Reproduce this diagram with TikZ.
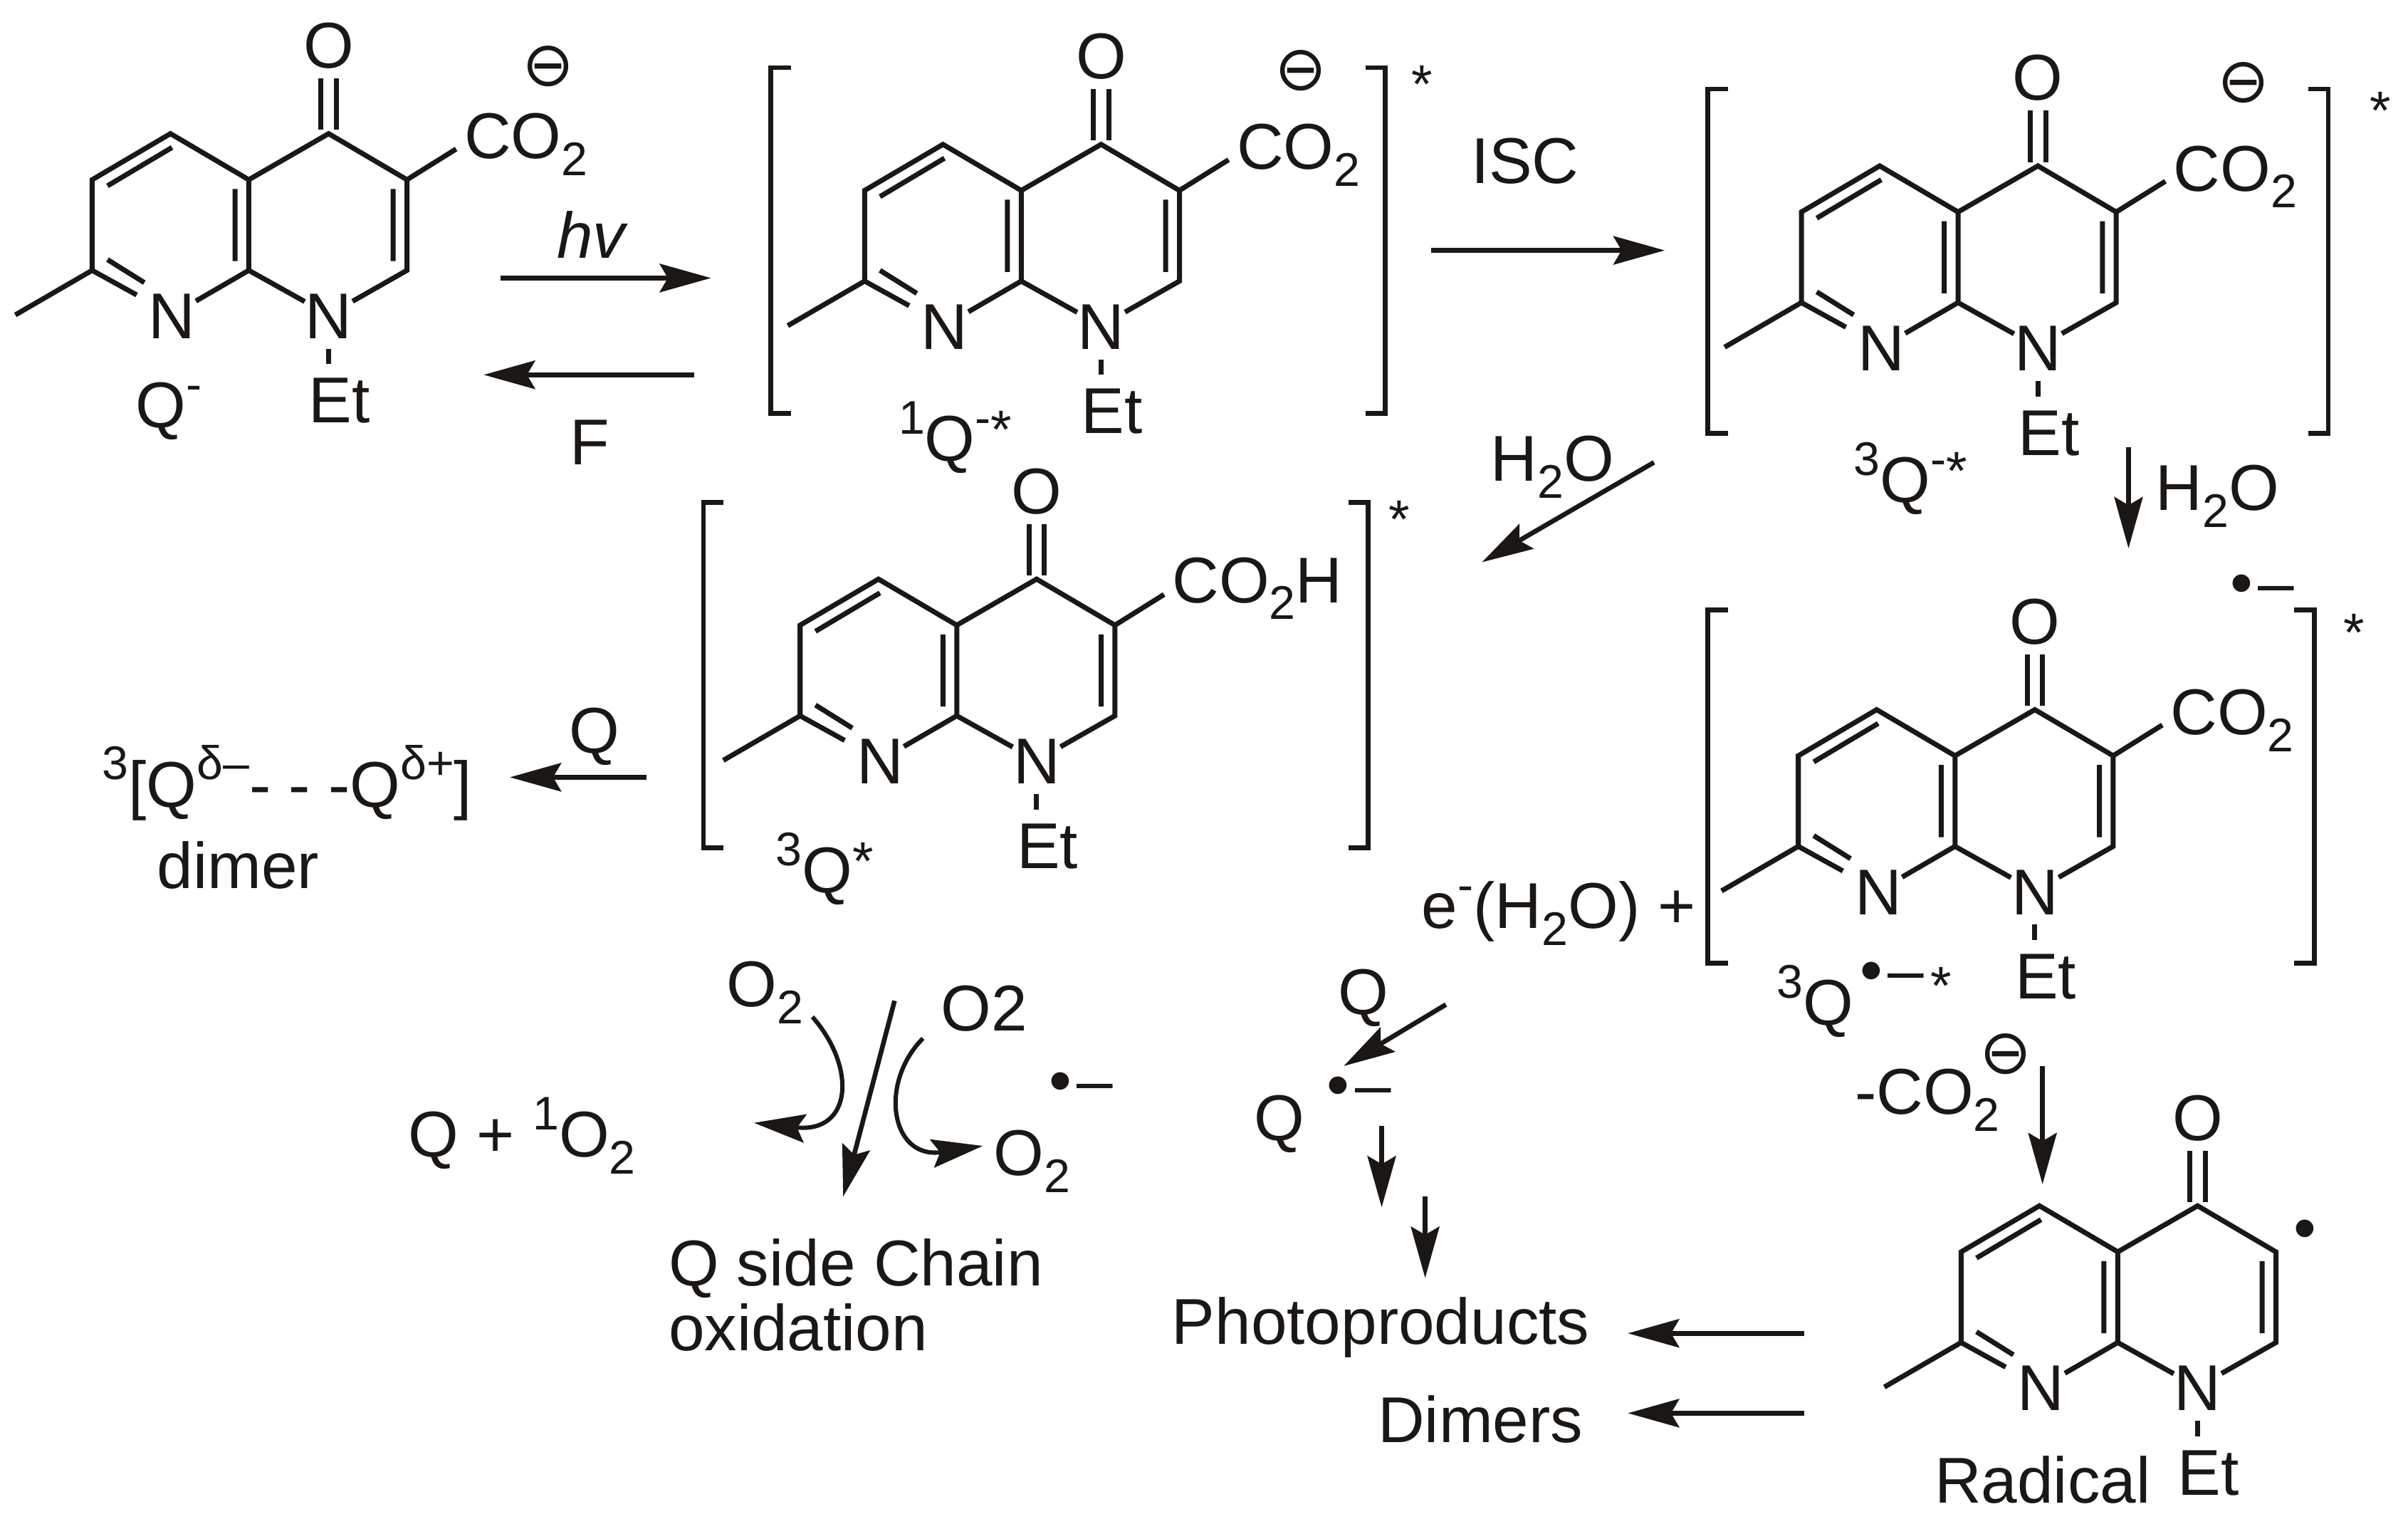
\documentclass[tikz,border=0pt]{standalone}
\usepackage{fontspec}
\usepackage{graphicx}
\setmainfont{Liberation Sans}
\newfontfamily\dvfont{DejaVu Sans}
\usetikzlibrary{arrows.meta,calc}
\newcommand{\lowtwo}[1]{\raisebox{-.26em}{\fontsize{17.5}{18}\selectfont #1}}
\newcommand{\hightwo}[1]{\raisebox{.42em}{\fontsize{17.5}{18}\selectfont #1}}
\newcommand{\asty}{\raisebox{.2em}{\fontsize{20}{20}\selectfont *}}
\newcommand{\mns}{{\dvfont\fontsize{23}{23}\selectfont ⊖}}
\newcommand{\rdot}{{\fontsize{24}{24}\selectfont •}}
\newcommand{\rad}{{\fontsize{24}{24}\selectfont •}\hspace{2pt}{\fontsize{24}{24}\selectfont –}}
\tikzset{
  lab/.style={font=\fontsize{24}{26}\selectfont,inner sep=0pt,text height=17.4pt,text depth=0pt,text=ink},
  marks/.style={inner sep=0pt,text=ink},
  star/.style={font=\fontsize{20}{20}\selectfont,inner sep=0pt,text=ink},
  bond/.style={draw=ink,line width=1.85pt,line cap=butt,line join=miter},
  brk/.style={draw=ink,line width=1.75pt},
  arw/.style={draw=ink,line width=1.75pt,-{Stealth[length=19pt,width=10.5pt,inset=3pt,fill=ink]}},
}
\definecolor{ink}{RGB}{26,23,20}
% molecule skeleton: prefix, x and y of the C4 atom
\newcommand{\molbase}[3]{%
 \begin{scope}[shift={(#2,#3)}]
  \coordinate (#1c4) at (0,0);
  \coordinate (#1c4a) at (-52,30);
  \coordinate (#1c3) at (51,30);
  \coordinate (#1c2) at (51,89);
  \coordinate (#1c8a) at (-52,89);
  \coordinate (#1c7) at (-154,89);
  \coordinate (#1c6) at (-154,30);
  \coordinate (#1c5) at (-103,0);
  \coordinate (#1me) at (-204,118);
  \coordinate (#1oa) at (-5,-2.5);
  \coordinate (#1ob) at (5,-2.5);
  \coordinate (#1oc) at (-5,-36);
  \coordinate (#1od) at (5,-36);
  \coordinate (#1ia) at (-61,36);
  \coordinate (#1ib) at (-61,83);
  \coordinate (#1ic) at (42,36);
  \coordinate (#1id) at (42,83);
  \coordinate (#1ie) at (-144,34);
  \coordinate (#1if) at (-102,9);
  \coordinate (#1ig) at (-144,82);
  \coordinate (#1ih) at (-120,97);
  \coordinate (#1ii) at (-125,105);
  \coordinate (#1ea) at (0,140);
  \coordinate (#1eb) at (0,150);
  \coordinate (#1sb) at (83,10);
  \node[lab] (#1n1) at (0,118) {N};
  \node[lab] (#1n8) at (-102,118) {N};
  \node[lab] (#1o) at (0,-58) {O};
  \node[lab] (#1et) at (7,173) {Et};
  \draw[bond] (#1c4a)--(#1c4)--(#1c3)--(#1c2)--(#1n1);
  \draw[bond] (#1n1)--(#1c8a)--(#1c4a);
  \draw[bond] (#1c8a)--(#1n8);
  \draw[bond] (#1ii)--(#1c7)--(#1c6)--(#1c5)--(#1c4a);
  \draw[bond] (#1c7)--(#1me);
  \draw[bond] (#1oa)--(#1oc) (#1ob)--(#1od);
  \draw[bond] (#1ia)--(#1ib) (#1ic)--(#1id) (#1ie)--(#1if) (#1ig)--(#1ih);
  \draw[bond] (#1ea)--(#1eb);
 \end{scope}}
\newcommand{\brackets}[7]{% prefix, left, right, top, bottom, star x, star y
  \coordinate (#1a) at (#2+13,#4);
  \coordinate (#1b) at (#2,#4);
  \coordinate (#1c) at (#2,#5);
  \coordinate (#1d) at (#2+13,#5);
  \coordinate (#1e) at (#3-13,#4);
  \coordinate (#1f) at (#3,#4);
  \coordinate (#1g) at (#3,#5);
  \coordinate (#1h) at (#3-13,#5);
  \draw[brk] (#1a)--(#1b)--(#1c)--(#1d);
  \draw[brk] (#1e)--(#1f)--(#1g)--(#1h);
  \node[star] (#1s) at (#6,#7) {*};}
\newcommand{\arr}[3]{%
  \coordinate (#1s) at (#2);
  \coordinate (#1e) at (#3);
  \draw[arw] (#1s)--(#1e);}
\begin{document}
\begin{tikzpicture}[x=0.02cm,y=-0.02cm]
\useasboundingbox (0,0) rectangle (1568,992);
\fill[white] (0,0) rectangle (1568,992);
% molecules
\molbase{ma}{214}{87}
\molbase{mb}{717}{94}
\molbase{mc}{1327}{108}
\molbase{md}{675}{377}
\molbase{me}{1325}{462}
\molbase{mf}{1431}{785}
% substituents
\node[lab,anchor=west] (maco) at (302,88) {CO\lowtwo{2}};
\draw[bond] (mac3)--(masb);
\node[marks] (mam) at (357,43) {\mns};
\node[lab,anchor=west] (mbco) at (805,95) {CO\lowtwo{2}};
\draw[bond] (mbc3)--(mbsb);
\node[marks] (mbm) at (847,46) {\mns};
\node[lab,anchor=west] (mcco) at (1415,109) {CO\lowtwo{2}};
\draw[bond] (mcc3)--(mcsb);
\node[marks] (mcm) at (1461,54) {\mns};
\node[lab,anchor=west] (mdco) at (763,377) {CO\lowtwo{2}H};
\draw[bond] (mdc3)--(mdsb);
\node[lab,anchor=west] (meco) at (1413,463) {CO\lowtwo{2}};
\draw[bond] (mec3)--(mesb);
\node[marks] (merad) at (1473,384) {\rad};
\node[marks] (mfrad) at (1501,804) {\rdot};
% brackets
\brackets{ba}{502}{902}{44}{269}{926}{55}
\brackets{bb}{1112}{1516}{58}{282}{1550}{72}
\brackets{bc}{458}{891}{327}{552}{911}{338}
\brackets{bd}{1112}{1507}{397}{627}{1533}{412}
% labels
\node[lab] (qa) at (110,263) {Q\hightwo{-}};
\node[lab] (qb) at (622,285) {\hightwo{1}Q\hightwo{-}\asty};
\node[lab] (qc) at (1244,312) {\hightwo{3}Q\hightwo{-}\asty};
\node[lab] (qd) at (537,566) {\hightwo{3}Q\asty};
\node[lab] (qe) at (1182,652) {\hightwo{3}Q};
\node[marks] (qer) at (1232,636) {\rad};
\node[star] (qes) at (1264,642) {*};
\node[lab,font=\fontsize{24}{26}\selectfont\itshape] (hv) at (385,153) {hv};
\node[lab] (f) at (384,287) {F};
\node[lab] (isc) at (993,104) {ISC};
\node[lab] (wa) at (1011,298) {H\lowtwo{2}O};
\node[lab] (wb) at (1444,317) {H\lowtwo{2}O};
\node[lab] (qq) at (387,475) {Q};
\node[lab] (dm) at (187,510) {\hightwo{3}[Q\hightwo{δ–}- - -Q\hightwo{δ+}]};
\node[lab] (dimer) at (155,563) {dimer};
\node[lab] (ew) at (1015,589) {e\hightwo{-}(H\lowtwo{2}O) +};
\node[lab] (co) at (1255,710) {-CO\lowtwo{2}};
\node[marks] (com) at (1306,686) {\mns};
\node[lab] (o2a) at (498,640) {O\lowtwo{2}};
\node[lab] (o2b) at (641,656) {O2};
\node[lab] (o2c) at (672,750) {O\lowtwo{2}};
\node[marks] (o2r) at (704,708) {\rad};
\node[lab] (q1o) at (340,738) {Q + \hightwo{1}O\lowtwo{2}};
\node[lab,anchor=west] (side) at (435,822) {Q side Chain};
\node[lab,anchor=west] (oxi) at (435,864) {oxidation};
\node[lab] (qt) at (888,645) {Q};
\node[lab] (qr) at (833,727) {Q};
\node[marks] (qrr) at (885,711) {\rad};
\node[lab] (pp) at (899,860) {Photoproducts};
\node[lab] (dd) at (964,924) {Dimers};
\node[lab] (rd) at (1330,963) {Radical};
% arrows
\arr{aa}{326,181}{463,181}
\arr{ab}{452,244}{315,244}
\arr{ac}{932,163}{1084,163}
\arr{ad}{1077,301}{965,366}
\arr{ae}{1386,291}{1386,357}
\arr{af}{421,506}{332,506}
\arr{ag}{1330,694}{1330,771}
\arr{ah}{941.5,654}{875,694}
\arr{ai}{899.7,733}{899.7,786}
\arr{aj}{928,779}{928,832}
\arr{ak}{1175,868}{1060,868}
\arr{al}{1175,920}{1060,920}
\arr{am}{582.5,651.5}{549,779}
% curved arrows
\coordinate (ca) at (529,662);
\coordinate (cb) at (491,731);
\draw[arw,line width=1.6pt] (ca) .. controls (558,695) and (555,738) .. (cb);
\coordinate (cc) at (601,676);
\coordinate (cd) at (640,746);
\draw[arw,line width=1.6pt] (cc) .. controls (572,705) and (580,755) .. (cd);
\end{tikzpicture}
\end{document}
